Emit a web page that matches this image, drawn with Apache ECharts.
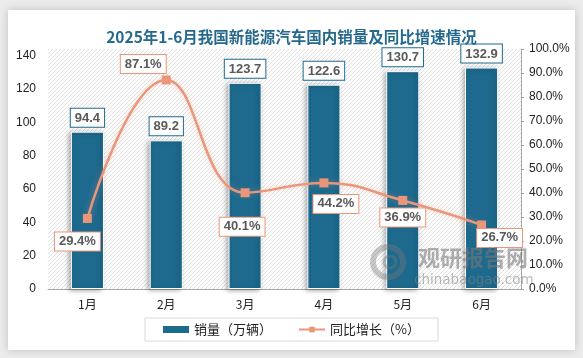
<!DOCTYPE html>
<html>
<head>
<meta charset="utf-8">
<script src="https://cdn.jsdelivr.net/npm/echarts@6/dist/echarts.min.js"></script>
<style>
  html, body { margin: 0; padding: 0; width: 583px; height: 358px; background: #ebebeb; overflow: hidden; }
  #chart { position: absolute; left: 8px; top: 10px; width: 567px; height: 340px; background: #fff;
           box-shadow: 0 0 8px rgba(0,0,0,0.18); }
</style>
</head>
<body>
<div id="chart"></div>
<script>
// ---- data ----
var categories = ['1月', '2月', '3月', '4月', '5月', '6月'];
var sales = [94.4, 89.2, 123.7, 122.6, 130.7, 132.9];      // 销量（万辆）
var growth = [29.4, 87.1, 40.1, 44.2, 36.9, 26.7];          // 同比增长（%）
var salesName = '销量（万辆）';
var growthName = '同比增长（%）';
var titleText = '2025年1-6月我国新能源汽车国内销量及同比增速情况';

// label offsets for the growth labels (layout only)
var growthLabelOffsets = [[-10, 23], [-23, -16], [-3, 34], [12, 21], [0, 17], [18, 13]];

var barColor = '#1d6a8e';
var lineColor = '#e9967a';

// hatched plot background
var pat = document.createElement('canvas');
pat.width = 4; pat.height = 4;
var pc = pat.getContext('2d');
pc.fillStyle = '#ffffff'; pc.fillRect(0, 0, 4, 4);
pc.strokeStyle = '#dcdcdc'; pc.lineWidth = 0.9;
pc.beginPath();
pc.moveTo(0, 4); pc.lineTo(4, 0);
pc.moveTo(-1, 1); pc.lineTo(1, -1);
pc.moveTo(3, 5); pc.lineTo(5, 3);
pc.stroke();

var chart = echarts.init(document.getElementById('chart'), null, { renderer: 'canvas' });

var labelFont = '"Liberation Sans", "Noto Sans CJK SC", sans-serif';

var growthData = growth.map(function (v, i) {
  return {
    value: v,
    label: { offset: growthLabelOffsets[i] }
  };
});

var wmFill = 'rgba(120,120,120,0.6)';

var option = {
  animation: false,
  title: {
    text: titleText,
    left: 'center',
    top: 14,
    textStyle: {
      fontFamily: '"Noto Sans CJK SC", sans-serif',
      fontSize: 15.5,
      fontWeight: 'bold',
      color: '#256a8d'
    }
  },
  legend: {
    left: 'center',
    top: 308,
    borderColor: '#d9d9d9',
    borderWidth: 1,
    padding: [5, 18, 5, 18],
    itemGap: 26,
    textStyle: { fontSize: 13, color: '#222', fontFamily: '"Noto Sans CJK SC", sans-serif' },
    data: [
      { name: salesName, icon: 'rect', itemStyle: { borderWidth: 0 } },
      { name: growthName }
    ],
    itemWidth: 26,
    itemHeight: 7
  },
  grid: {
    left: 40,
    right: 54,
    top: 39,
    bottom: 61,
    show: true,
    borderWidth: 0,
    backgroundColor: { image: pat, repeat: 'repeat' }
  },
  xAxis: {
    type: 'category',
    data: categories,
    axisLine: { lineStyle: { color: '#a6a6a6', width: 1 } },
    axisTick: { show: false },
    axisLabel: { color: '#222', fontSize: 12, margin: 9, fontFamily: '"Noto Sans CJK SC", sans-serif' }
  },
  yAxis: [
    {
      type: 'value',
      min: 0,
      max: 144,
      interval: 20,
      axisLine: { show: false },
      axisTick: { show: false },
      splitLine: { show: false },
      axisLabel: {
        color: '#222', fontSize: 12, margin: 12, fontFamily: labelFont,
        formatter: function (v) { return v % 20 === 0 ? String(v) : ''; }
      }
    },
    {
      type: 'value',
      min: 0,
      max: 100,
      interval: 10,
      position: 'right',
      axisLine: { show: true, lineStyle: { color: '#a6a6a6' } },
      axisTick: { show: true, length: 3, lineStyle: { color: '#a6a6a6' } },
      splitLine: { show: false },
      axisLabel: {
        color: '#222', fontSize: 12, margin: 8, fontFamily: labelFont,
        formatter: function (v) { return v.toFixed(1) + '%'; }
      }
    }
  ],
  series: [
    {
      name: salesName,
      type: 'bar',
      yAxisIndex: 0,
      data: sales,
      barWidth: '42%',
      itemStyle: {
        color: barColor,
        borderColor: '#ffffff',
        borderWidth: 1,
        shadowColor: 'rgba(0,0,0,0.35)',
        shadowBlur: 5,
        shadowOffsetX: -2,
        shadowOffsetY: 1
      },
      label: {
        show: true,
        position: 'top',
        distance: 5,
        backgroundColor: '#fff',
        borderColor: barColor,
        borderWidth: 1,
        padding: [3, 4, 2, 4],
        color: '#595959',
        fontWeight: 'bold',
        fontSize: 13,
        fontFamily: labelFont
      },
      z: 2
    },
    {
      name: growthName,
      type: 'line',
      yAxisIndex: 1,
      data: growthData,
      smooth: 0.45,
      symbol: 'rect',
      symbolSize: 9,
      lineStyle: {
        color: lineColor,
        width: 2.5,
        shadowColor: 'rgba(233,150,122,0.45)',
        shadowBlur: 6
      },
      itemStyle: { color: lineColor, borderWidth: 0 },
      label: {
        show: true,
        position: 'inside',
        formatter: function (p) { return p.value.toFixed(1) + '%'; },
        backgroundColor: '#fff',
        borderColor: lineColor,
        borderWidth: 1,
        padding: [3, 4, 2, 4],
        color: '#595959',
        fontWeight: 'bold',
        fontSize: 13,
        fontFamily: labelFont
      },
      z: 5
    }
  ],
  graphic: [
    { type: 'circle', zlevel: 1, z: 100, silent: true, shape: { cx: 380, cy: 252, r: 15 }, style: { fill: 'none', stroke: 'rgba(120,120,120,0.4)', lineWidth: 6 } },
    { type: 'circle', zlevel: 1, z: 100, silent: true, shape: { cx: 382, cy: 252, r: 6 }, style: { fill: 'none', stroke: 'rgba(120,120,120,0.4)', lineWidth: 3 } },
    { type: 'text', zlevel: 1, z: 100, silent: true, left: 410, top: 237, style: { text: '观研报告网', fontSize: 22, fontWeight: 'bold', fill: wmFill, fontFamily: '"Noto Sans CJK SC", sans-serif' } },
    { type: 'text', zlevel: 1, z: 100, silent: true, left: 406, top: 263, style: { text: 'chinabaogao.com', fontSize: 13.5, fill: 'rgba(130,130,130,0.55)', fontFamily: '"DejaVu Sans", sans-serif' } }
  ]
};

chart.setOption(option);
</script>
</body>
</html>
